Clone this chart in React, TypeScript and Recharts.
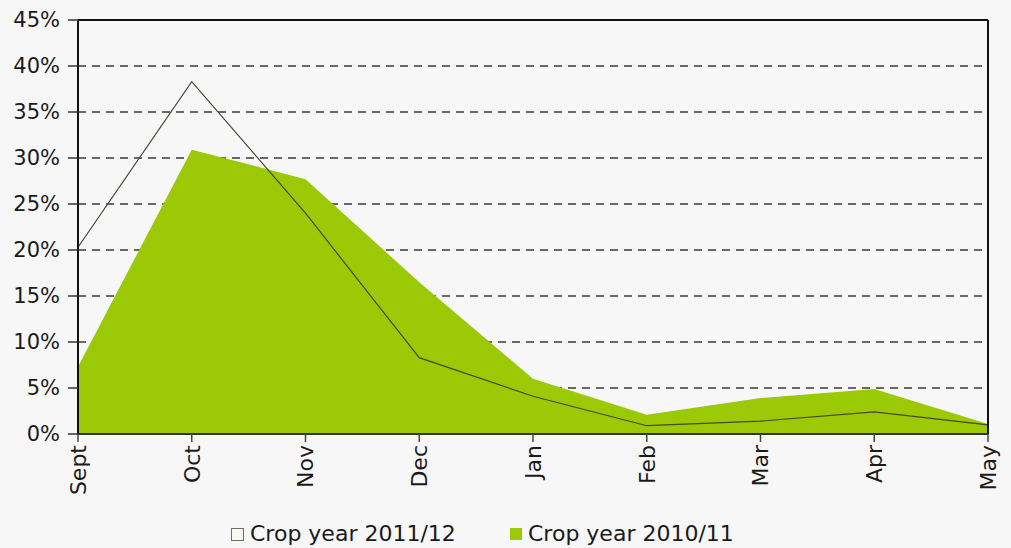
import { Area, CartesianGrid, ComposedChart, Legend, Line, ReferenceLine, XAxis, YAxis } from 'recharts';

const months = ['Sept', 'Oct', 'Nov', 'Dec', 'Jan', 'Feb', 'Mar', 'Apr', 'May'];
const crop201112 = [20.3, 38.3, 24.0, 8.3, 4.1, 0.9, 1.4, 2.4, 1.0];
const crop201011 = [7.3, 30.9, 27.7, 16.5, 6.0, 2.1, 3.9, 4.9, 1.1];
const yTicks = [0, 5, 10, 15, 20, 25, 30, 35, 40, 45];

const FONT = '"DejaVu Sans", sans-serif';
const GREEN = '#9bc905';

const data = months.map((month, i) => ({
  month,
  a: crop201112[i],
  b: crop201011[i],
}));

// rotated month labels, reading bottom to top
function MonthTick(props: any) {
  const { x, y, payload } = props;
  return (
    <text
      x={x}
      y={y}
      transform={`rotate(-90, ${x}, ${y})`}
      textAnchor='end'
      dy='0.36em'
      fill='#1a1a1a'
      fontSize={22}
      fontFamily={FONT}
    >
      {payload.value}
    </text>
  );
}

function ChartLegend() {
  const text = { position: 'absolute' as const, top: 3, fontSize: 22, fontFamily: FONT, color: '#1a1a1a', lineHeight: '26px' };
  return (
    <div style={{ position: 'relative', width: 1011, height: 30 }}>
      <div style={{ position: 'absolute', left: 231, top: 10, width: 11, height: 11, border: '1px solid #707055', background: '#f7f7f7' }} />
      <div style={{ ...text, left: 250 }}>Crop year 2011/12</div>
      <div style={{ position: 'absolute', left: 510, top: 10, width: 12, height: 12, background: GREEN }} />
      <div style={{ ...text, left: 528 }}>Crop year 2010/11</div>
    </div>
  );
}

export default function App() {
  return (
    <div style={{ position: 'absolute', left: 0, top: 0, width: 1011, height: 548, background: '#f7f7f7' }}>
      <ComposedChart width={1011} height={548} data={data} margin={{ top: 20, right: 23, bottom: 0, left: 0 }}>
        <CartesianGrid horizontal vertical={false} stroke='#3a3a3a' strokeWidth={1.3} strokeDasharray='8 6' />
        <XAxis
          dataKey='month'
          tick={<MonthTick />}
          tickSize={8}
          tickMargin={3}
          height={84}
          interval={0}
          axisLine={{ stroke: '#333', strokeWidth: 2 }}
          tickLine={{ stroke: '#444', strokeWidth: 1.5 }}
        />
        <YAxis
          domain={[0, 45]}
          ticks={yTicks}
          width={78}
          tickSize={10}
          tickMargin={8}
          tickFormatter={(v) => `${v}%`}
          tick={{ fill: '#1a1a1a', fontSize: 21, fontFamily: FONT }}
          axisLine={{ stroke: '#111', strokeWidth: 2 }}
          tickLine={{ stroke: '#333', strokeWidth: 1.5 }}
          interval={0}
        />
        <Area
          type='linear'
          dataKey='b'
          fill={GREEN}
          fillOpacity={1}
          stroke='none'
          isAnimationActive={false}
        />
        <Line
          type='linear'
          dataKey='a'
          stroke='#47472c'
          strokeWidth={1.2}
          dot={false}
          activeDot={false}
          isAnimationActive={false}
        />
        <ReferenceLine y={45} stroke='#111' strokeWidth={2} />
        <ReferenceLine x='May' stroke='#111' strokeWidth={2} />
        <Legend
          verticalAlign='bottom'
          content={<ChartLegend />}
          wrapperStyle={{ left: 0, bottom: 0, width: 1011, height: 30 }}
        />
      </ComposedChart>
    </div>
  );
}
